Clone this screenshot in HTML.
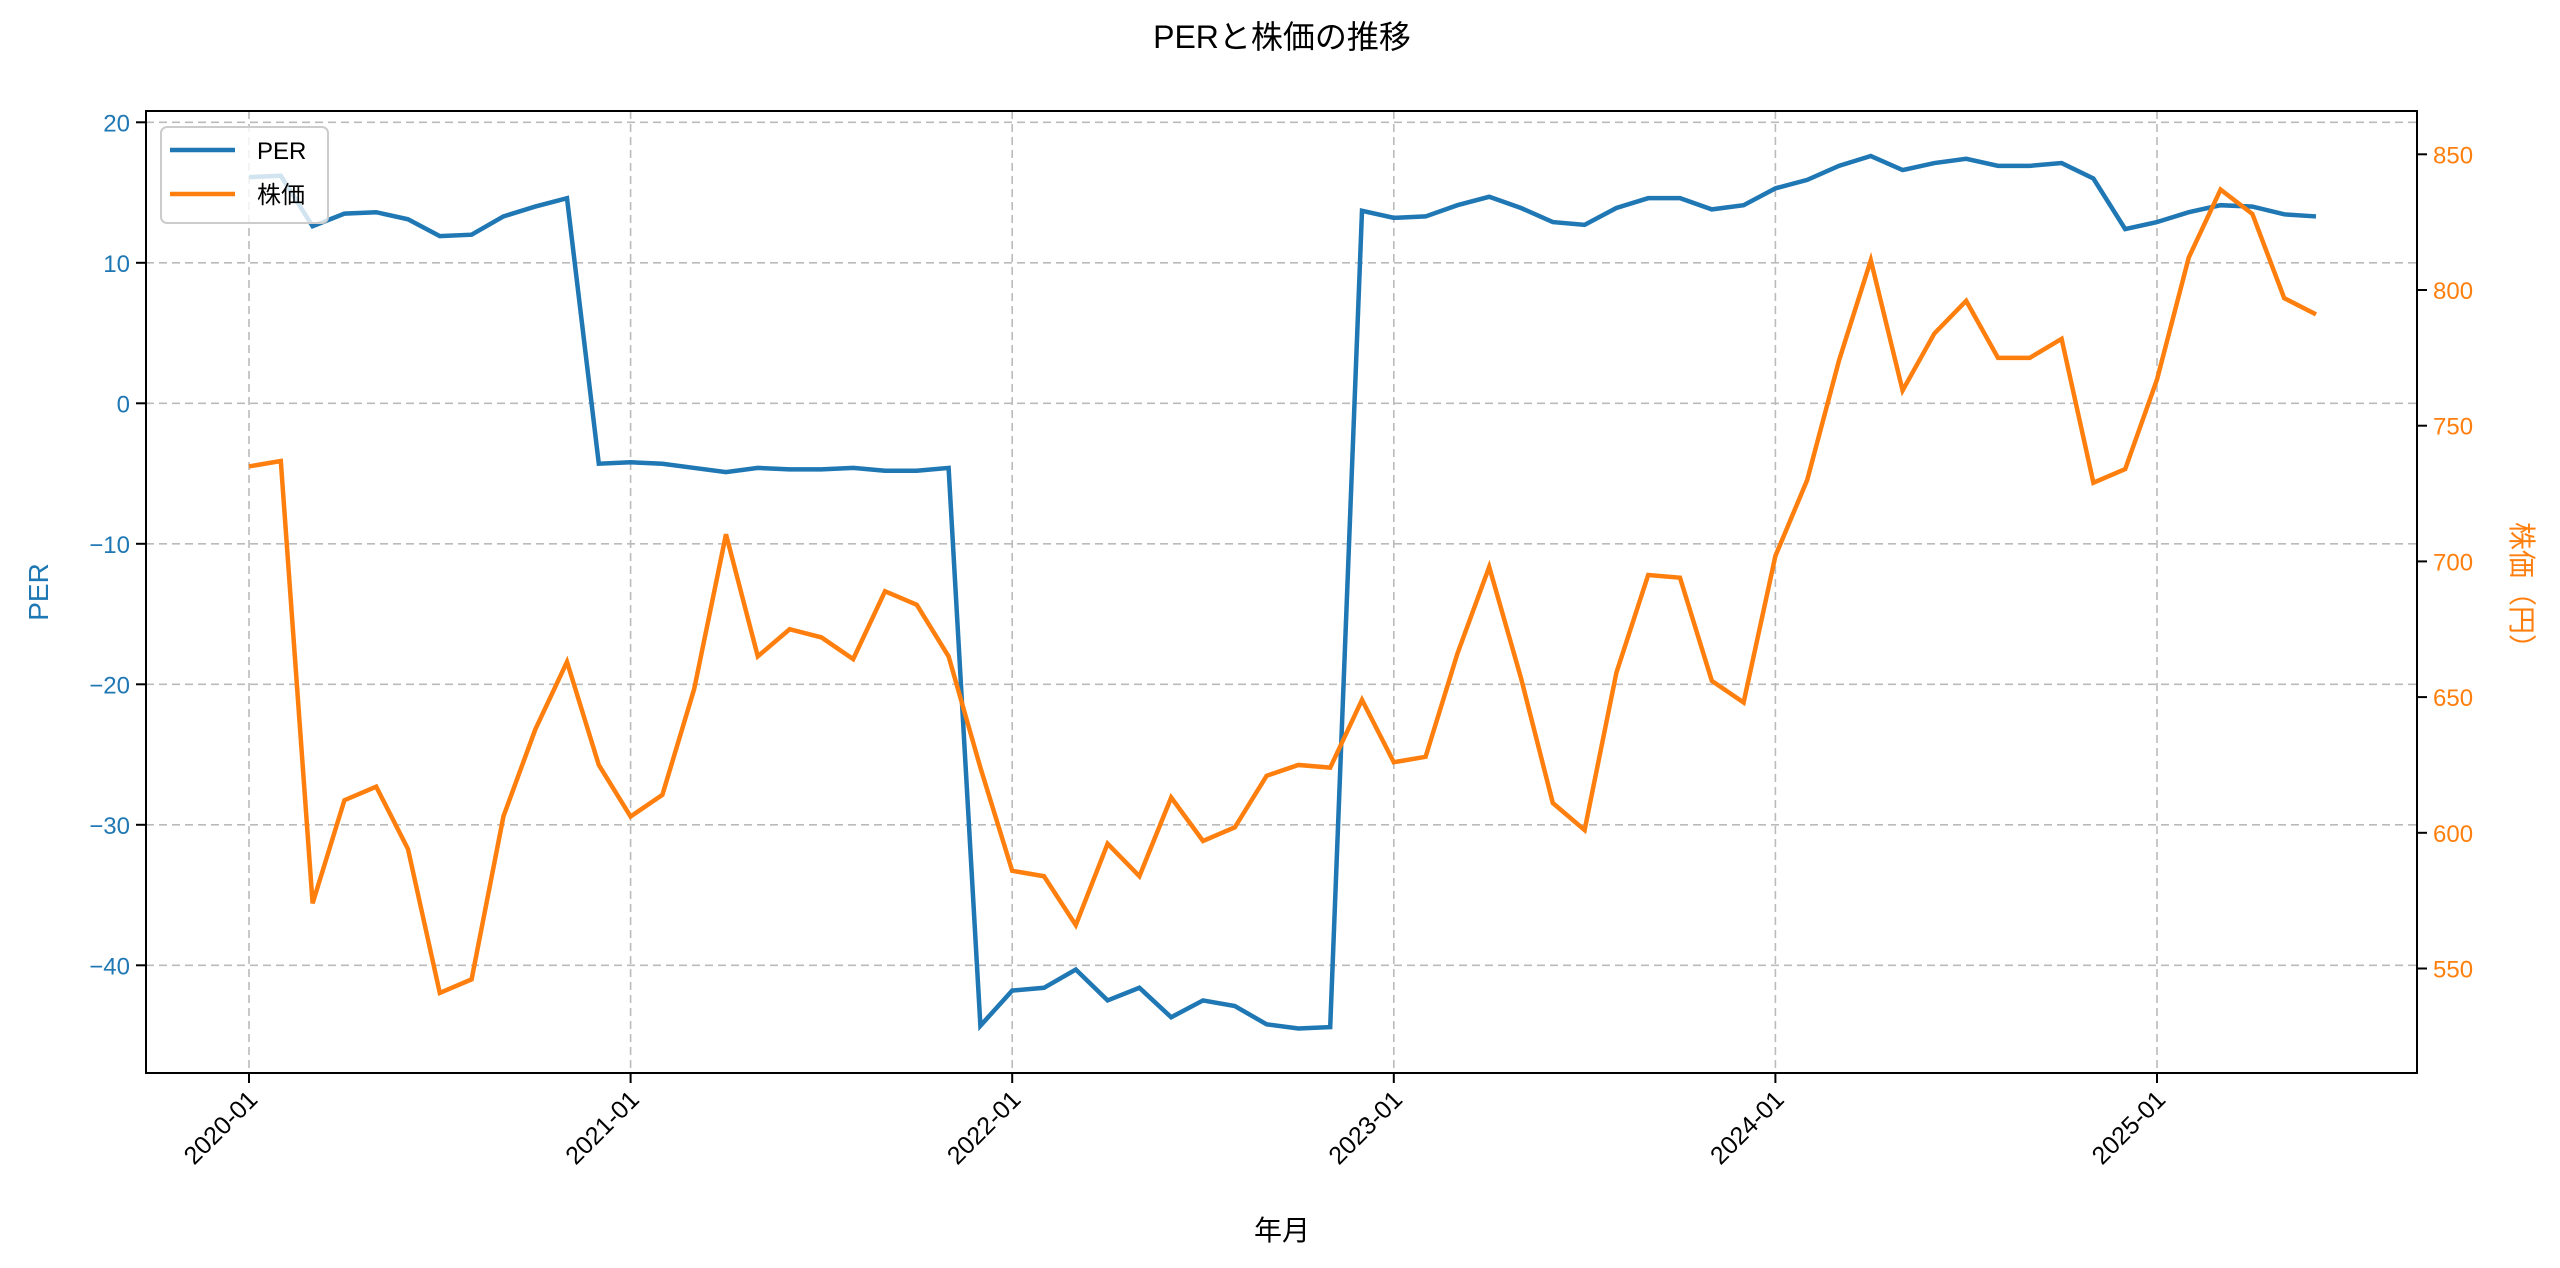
<!DOCTYPE html>
<html><head><meta charset="utf-8"><style>
html,body{margin:0;padding:0;background:#fff;}
svg{display:block;font-family:"Liberation Sans","Noto Sans CJK JP",sans-serif;}
</style></head><body>
<svg id="chart" width="2560" height="1268" viewBox="0 0 2560 1268" xmlns="http://www.w3.org/2000/svg">
<rect width="2560" height="1268" fill="#fff"/>
<text x="1282" y="48" font-size="32" text-anchor="middle" fill="#000">PERと株価の推移</text>
<g id="grid"></g>
<g id="series"></g>
<rect x="146" y="111" width="2271" height="962" fill="none" stroke="#000" stroke-width="2"/>
<g id="axes"></g>
<text x="1282" y="1240" font-size="28" text-anchor="middle" fill="#000">年月</text>
<text transform="translate(48,592) rotate(-90)" font-size="28" text-anchor="middle" fill="#1f77b4">PER</text>
<text transform="translate(2512,592) rotate(90)" font-size="28" text-anchor="middle" fill="#ff7f0e">株価（円）</text>
<g>
<rect x="161" y="127" width="167" height="96" rx="6" fill="#fff" fill-opacity="0.8" stroke="#ccc" stroke-width="2"/>
<line x1="170" y1="150" x2="235" y2="150" stroke="#1f77b4" stroke-width="4.5"/>
<text x="257" y="159" font-size="24" fill="#000">PER</text>
<line x1="170" y1="194" x2="235" y2="194" stroke="#ff7f0e" stroke-width="4.5"/>
<text x="257" y="203" font-size="24" fill="#000">株価</text>
</g>
</svg>
<script>
const months = [];
for (let i = 0; i < 66; i++) { const y = 2020 + Math.floor(i / 12), m = i % 12 + 1; months.push(y + '-' + String(m).padStart(2, '0')); }
const perValues = [16.1,16.2,12.6,13.5,13.6,13.1,11.9,12.0,13.3,14.0,14.6,-4.3,-4.2,-4.3,-4.6,-4.9,-4.6,-4.7,-4.7,-4.6,-4.8,-4.8,-4.6,-44.3,-41.8,-41.6,-40.3,-42.5,-41.6,-43.7,-42.5,-42.9,-44.2,-44.5,-44.4,13.7,13.2,13.3,14.1,14.7,13.9,12.9,12.7,13.9,14.6,14.6,13.8,14.1,15.3,15.9,16.9,17.6,16.6,17.1,17.4,16.9,16.9,17.1,16.0,12.4,12.9,13.6,14.1,14.0,13.45,13.3];
const priceValues = [735,737,574,612,617,594,541,546,606,638,663,625,606,614,653,710,665,675,672,664,689,684,665,624,586,584,566,596,584,613,597,602,621,625,624,649,626,628,666,698,657,611,601,659,695,694,656,648,702,730,774,811,763,784,796,775,775,782,729,734,767,812,837,828,797,791];
const perTicks = [20,10,0,-10,-20,-30,-40];
const priceTicks = [550,600,650,700,750,800,850];
const xTickLabels = ['2020-01','2021-01','2022-01','2023-01','2024-01','2025-01'];

const L=146,R=2417,T=111,B=1073;
const xScale = i => 249 + i * 31.8;
const yPer = v => 403.3 - 14.05 * v;
const yPrice = v => 290 - (v - 800) * 2.714;
const NS='http://www.w3.org/2000/svg';
function mk(tag, attrs, parent){const e=document.createElementNS(NS,tag);for(const k in attrs)e.setAttribute(k,attrs[k]);parent.appendChild(e);return e;}
const grid=document.getElementById('grid'), axes=document.getElementById('axes'), series=document.getElementById('series');

xTickLabels.forEach(lbl=>{
  const x=xScale(months.indexOf(lbl));
  const g=mk('line',{x1:x,y1:T,x2:x,y2:B,stroke:'#bbb','stroke-width':1.6,'stroke-dasharray':'8,5'},grid);
  
  
  mk('line',{x1:x,y1:B,x2:x,y2:B+10,stroke:'#000','stroke-width':2},axes);
  const t=mk('text',{transform:`translate(${x+10},${B+28}) rotate(-45)`,'font-size':25,'text-anchor':'end',fill:'#000'},axes);
  t.textContent=lbl;
  
  
});
perTicks.forEach(v=>{
  const y=yPer(v);
  const g=mk('line',{x1:L,y1:y,x2:R,y2:y,stroke:'#bbb','stroke-width':1.6,'stroke-dasharray':'8,5'},grid);
  
  
  mk('line',{x1:L-10,y1:y,x2:L,y2:y,stroke:'#000','stroke-width':2},axes);
  const t=mk('text',{x:L-16,y:y+9,'font-size':24,'text-anchor':'end',fill:'#1f77b4'},axes);
  t.textContent=(v<0?'\u2212'+(-v):String(v));
  
  
});
priceTicks.forEach(v=>{
  const y=yPrice(v);
  mk('line',{x1:R,y1:y,x2:R+10,y2:y,stroke:'#000','stroke-width':2},axes);
  const t=mk('text',{x:R+16,y:y+9,'font-size':24,'text-anchor':'start',fill:'#ff7f0e'},axes);
  t.textContent=String(v);
  
  
});
const perLine=mk('polyline',{points:perValues.map((v,i)=>xScale(i)+','+yPer(v)).join(' '),fill:'none',stroke:'#1f77b4','stroke-width':4.5,'stroke-linejoin':'miter'},series);


const priceLine=mk('polyline',{points:priceValues.map((v,i)=>xScale(i)+','+yPrice(v)).join(' '),fill:'none',stroke:'#ff7f0e','stroke-width':4.5,'stroke-linejoin':'miter'},series);


</script>
</body></html>
